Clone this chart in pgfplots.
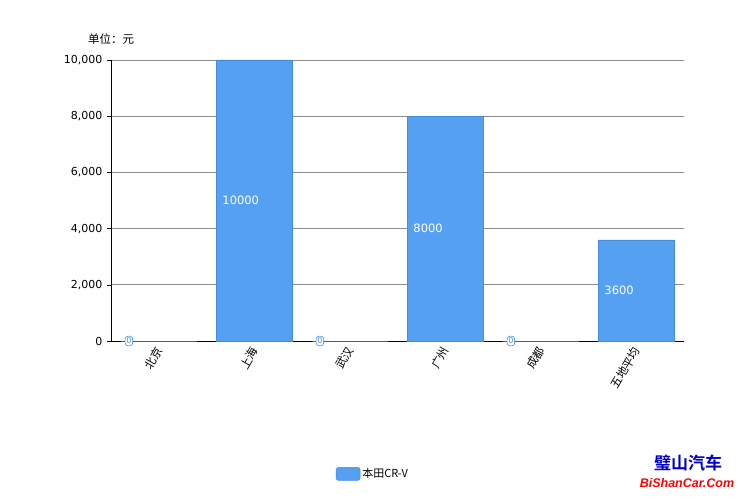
\documentclass[border=0pt]{standalone}
\usepackage{pgfplots}
\usepackage{pgfplotstable}
\pgfplotsset{compat=1.18}
\usepackage{fontspec}
\setmainfont{DejaVu Sans}
\newfontfamily\cjk{Noto Sans CJK SC}
\newfontfamily\cjkb{Noto Sans CJK SC Bold}
\newfontfamily\wmfont{Liberation Sans}
\definecolor{barblue}{RGB}{85,160,240}
\definecolor{barline}{RGB}{70,140,220}
\definecolor{gridgray}{RGB}{140,140,140}
\pgfplotstableread{
x y
0 0
1 10000
2 0
3 8000
4 0
5 3600
}\data
\begin{document}
\begin{tikzpicture}[x=1pt,y=1pt]
\path (0,0) rectangle (744,496);
\begin{axis}[
  at={(111pt,155pt)}, anchor=south west,
  scale only axis, width=573pt, height=281pt,
  xmin=-0.5, xmax=5.5, ymin=0, ymax=10000,
  axis x line=bottom, axis y line=left,
  axis line style={-, black, line width=0.8pt},
  ytick={0,2000,4000,6000,8000,10000},
  ymajorgrids, grid style={gridgray, line width=0.7pt},
  tick align=outside, major tick length=4pt,
  ytick style={black, line width=0.6pt},
  xtick={0,1,2,3,4,5},
  xtick style={draw=none},
  xticklabels={北京,上海,武汉,广州,成都,五地平均},
  x tick label style={font=\cjk\fontsize{11.5}{13}\selectfont, rotate=60, anchor=east, yshift=-2pt, inner sep=2pt},
  y tick label style={font=\fontsize{11}{13}\selectfont, xshift=-1pt},
  /pgf/number format/assume math mode=true,
  /pgf/number format/1000 sep={,},
  scaled y ticks=false,
  clip=false,
  legend style={at={(0.457,-0.473)}, anchor=center, draw=none, fill=none,
    font=\cjk\fontsize{11}{13}\selectfont},
  legend cell align=left,
]
\addplot[ybar, bar width=76pt, fill=barblue, draw=barline, line width=0.5pt,
  legend image code/.code={\draw[fill=barblue, draw=barline, rounded corners=2.5pt] (0pt,-6.5pt) rectangle (24pt,6.5pt);}]
  table[x=x,y=y] {\data};
\addlegendentry{本田CR-V}
\addplot[draw=none, mark=none, forget plot,
  restrict y to domain=1:20000,
  nodes near coords, point meta=explicit,
  every node near coord/.style={anchor=west, xshift=-35pt, text=white, inner sep=3pt,
    font=\fontsize{11.5}{13}\selectfont, /pgf/number format/fixed, /pgf/number format/1000 sep={}}]
  table[x=x, y expr=\thisrow{y}/2, meta=y] {\data};
\addplot[draw=none, mark=none, forget plot,
  restrict y to domain=-1:1,
  nodes near coords, point meta=explicit,
  every node near coord/.style={anchor=west, xshift=-34pt, text=barline, fill=white, draw=barline,
    rounded corners=3pt, inner xsep=1.3pt, inner ysep=1.8pt, line width=0.6pt, font=\fontsize{8}{9}\selectfont}]
  table[x=x, y=y, meta=y] {\data};
\end{axis}
\node[font=\cjk\fontsize{11.5}{13}\selectfont] at (111,457) {单位：元};
\node[font=\cjkb\fontsize{17}{18}\selectfont, text=blue!80!black] at (688,33) {璧山汽车};
\node[font=\wmfont\bfseries\itshape\fontsize{12.5}{14}\selectfont, text=red] at (687,13) {BiShanCar.Com};
\end{tikzpicture}
\end{document}
